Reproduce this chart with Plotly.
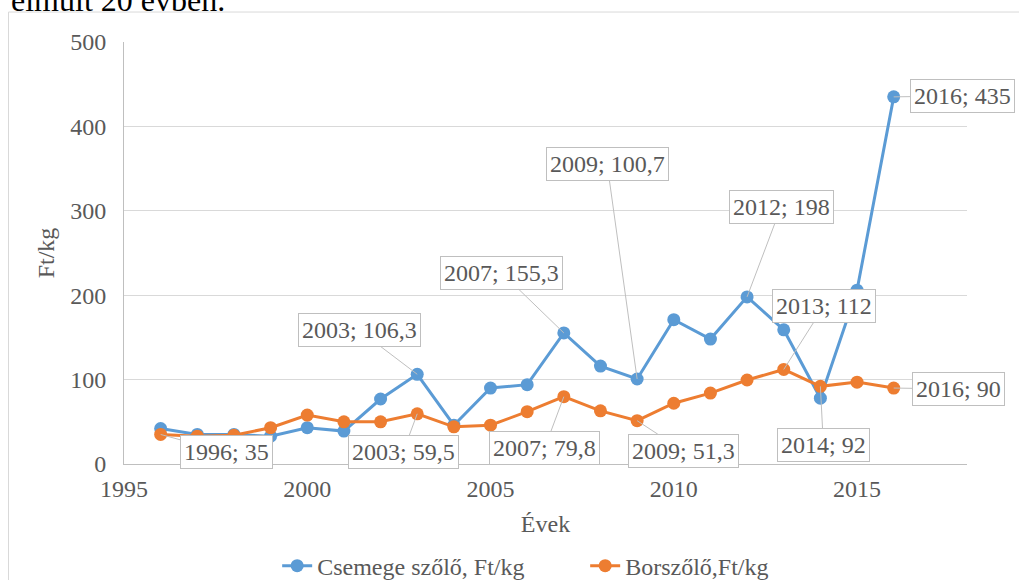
import plotly.graph_objects as go

# ---- data ----
years = list(range(1996, 2017))
csemege = [42, 35, 35, 33, 43, 39, 77, 106.3, 46, 90, 94, 155.3, 116, 100.7, 171, 148, 198, 159, 78, 206, 435]
borszolo = [35, 33, 34, 43, 58, 50, 50, 59.5, 44, 46, 62, 79.8, 63, 51.3, 72, 84, 99.5, 112, 92, 97, 90]
series_names = ["Csemege szőlő, Ft/kg", "Borszőlő,Ft/kg"]
x_ticks = [1995, 2000, 2005, 2010, 2015]
y_ticks = [0, 100, 200, 300, 400, 500]
x_title = "Évek"
y_title = "Ft/kg"
page_text = "elmúlt 20 évben."

# labelled points: year -> label offset (pixels)
csemege_labels = {2003: (-58, -44), 2007: (-62, -60), 2009: (-30, -215), 2012: (34, -90), 2016: (69, -1)}
borszolo_labels = {1996: (66, 18), 2003: (-14, 38), 2007: (-19, 51), 2009: (46, 30), 2013: (40, -63), 2014: (3, 59), 2016: (65, 1)}

FONT = "Liberation Serif"
TXT = "#595959"
BLUE = "#5B9BD5"
ORANGE = "#ED7D31"

fig = go.Figure()
for name, vals, col in [(series_names[0], csemege, BLUE), (series_names[1], borszolo, ORANGE)]:
    fig.add_trace(go.Scatter(x=years, y=vals, name=name, mode="lines+markers",
                             line=dict(color=col, width=3),
                             marker=dict(color=col, size=13)))

def fmt(v):
    return ("%g" % v).replace(".", ",")

annotations = []
for vals, labels in [(csemege, csemege_labels), (borszolo, borszolo_labels)]:
    for yr, (ax, ay) in labels.items():
        v = vals[years.index(yr)]
        annotations.append(dict(x=yr, y=v, xref="x", yref="y", text=f"{yr}; {fmt(v)}",
                                showarrow=True, arrowhead=0, arrowwidth=1, arrowcolor="#bfbfbf",
                                ax=ax, ay=ay, bgcolor="white", bordercolor="#bfbfbf",
                                borderwidth=1, borderpad=3,
                                font=dict(family=FONT, size=24, color=TXT)))

annotations.append(dict(x=-0.137, y=1.10, xref="paper", yref="paper", xanchor="left", yanchor="middle",
                        text=page_text, showarrow=False,
                        font=dict(family=FONT, size=32, color="black")))

fig.update_layout(
    width=1019, height=580,
    margin=dict(l=124, r=52, t=42, b=116),
    paper_bgcolor="white", plot_bgcolor="white",
    font=dict(family=FONT, size=24, color=TXT),
    showlegend=True,
    legend=dict(orientation="h", xref="container", yref="container",
                x=0.272, xanchor="left", y=0.024, yanchor="middle",
                entrywidth=263,
                font=dict(family=FONT, size=24, color=TXT), bgcolor="rgba(0,0,0,0)"),
    annotations=annotations,
    shapes=[dict(type="rect", xref="paper", yref="paper", x0=-0.137, y0=-1, x1=2, y1=1.071,
                 line=dict(color="#d9d9d9", width=1), layer="below")],
)
fig.update_xaxes(range=[1995, 2018], tickvals=x_ticks, showgrid=False, zeroline=False,
                 showline=True, linecolor="#bfbfbf", linewidth=1, ticks="",
                 ticklabelstandoff=3, automargin=False,
                 tickfont=dict(family=FONT, size=24, color=TXT),
                 title=dict(text=x_title, font=dict(family=FONT, size=24, color=TXT), standoff=14))
fig.update_yaxes(range=[0, 500], tickvals=y_ticks, showgrid=True, gridcolor="#d9d9d9", gridwidth=1,
                 zeroline=False, showline=True, linecolor="#bfbfbf", linewidth=1, ticks="",
                 ticklabelstandoff=12, automargin=False,
                 tickfont=dict(family=FONT, size=24, color=TXT),
                 title=dict(text=y_title, font=dict(family=FONT, size=24, color=TXT), standoff=8))

fig.write_html("out.html", config={"displayModeBar": False},
               post_script="document.body.style.margin='0';document.body.style.overflow='hidden';")
